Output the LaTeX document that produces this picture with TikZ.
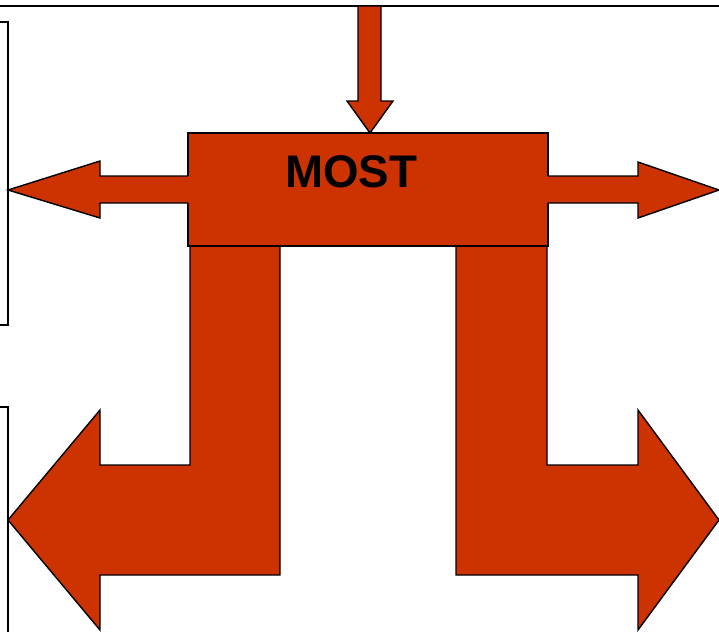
\documentclass[tikz,border=0pt]{standalone}
\usepackage{fontspec}
\setmainfont{Liberation Sans}
\definecolor{brick}{RGB}{204,51,0}
\tikzset{
  redshape/.style={fill=brick, draw=black, line width=1.2pt, line join=miter},
  redfill/.style={fill=brick},
  outline/.style={draw=black, line width=1.2pt, line join=miter},
  frame/.style={draw=black, line width=1.6pt}
}
\begin{document}
\begin{tikzpicture}[x=0.03cm, y=-0.03cm]
\useasboundingbox (0,0) rectangle (719,632);
% frame lines
\draw[frame] (0,6) -- (719,6);
\draw[frame] (0,22) -- (8,22) -- (8,325) -- (0,325);
\draw[frame] (0,407) -- (8,407) -- (8,632);
% legs with big arrows
\draw[redshape] (190,246) -- (280,246) -- (280,575) -- (100,575) -- (100,630)
  -- (8,520) -- (100,410) -- (100,465) -- (190,465) -- cycle;
\draw[redshape] (456,246) -- (547,246) -- (547,465) -- (638,465) -- (638,410)
  -- (719,520) -- (638,630) -- (638,575) -- (456,575) -- cycle;
% box
\coordinate (boxnw) at (188,133);
\coordinate (boxse) at (548,246);
\draw[redshape] (boxnw) rectangle (boxse);
\node[font=\bfseries\fontsize{39}{39}\selectfont, inner sep=0] (most) at (351,172) {MOST};
% top arrow
\draw[redshape] (358,6) -- (381,6) -- (381,101) -- (393,101) -- (370,133)
  -- (347,101) -- (358,101) -- cycle;
% side arrows
\fill[redfill] (191,176) -- (100,176) -- (100,161) -- (8,190) -- (100,218)
  -- (100,203) -- (191,203) -- cycle;
\draw[outline] (188,176) -- (100,176) -- (100,161) -- (8,190) -- (100,218)
  -- (100,203) -- (188,203);
\fill[redfill] (545,176) -- (638,176) -- (638,162) -- (719,190) -- (638,218)
  -- (638,203) -- (545,203) -- cycle;
\draw[outline] (548,176) -- (638,176) -- (638,162) -- (719,190) -- (638,218)
  -- (638,203) -- (548,203);
\end{tikzpicture}
\end{document}
